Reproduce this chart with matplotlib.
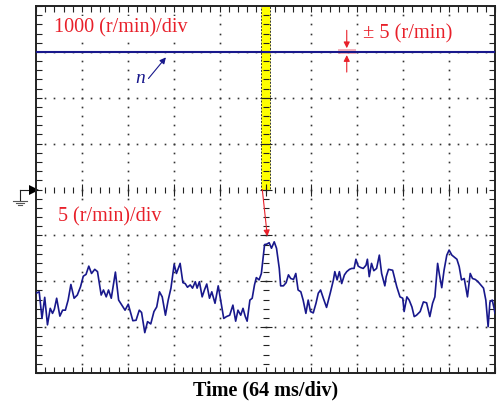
import numpy as np
import matplotlib
matplotlib.use('Agg')
from matplotlib import pyplot as plt
from matplotlib.patches import Rectangle

# screen units: divisions (10 x 8), time 64 ms/div
t_div = [0, 0.07, 0.13, 0.19, 0.25, 0.31, 0.36, 0.40, 0.45, 0.52,
         0.58, 0.64, 0.70, 0.76, 0.83, 0.90, 0.97, 1.03, 1.09, 1.15,
         1.21, 1.28, 1.34, 1.42, 1.47, 1.53, 1.58, 1.64, 1.73, 1.80,
         1.87, 1.94, 2.01, 2.11, 2.18, 2.25, 2.30, 2.37, 2.43, 2.50,
         2.57, 2.63, 2.69, 2.75, 2.82, 2.88, 2.94, 3.01, 3.06, 3.14,
         3.20, 3.25, 3.30, 3.36, 3.41, 3.47, 3.51, 3.56, 3.62, 3.67,
         3.72, 3.78, 3.83, 3.90,
         3.97, 4.04, 4.09, 4.15, 4.22, 4.29, 4.35, 4.40, 4.46, 4.51,
         4.56, 4.60, 4.66, 4.71, 4.76, 4.80, 4.86, 4.91, 4.95, 4.98,
         5.03,
         5.08, 5.13, 5.19, 5.24, 5.30, 5.33, 5.39, 5.45, 5.50, 5.55,
         5.61, 5.66, 5.71, 5.77, 5.82, 5.88, 5.93, 5.98, 6.04, 6.10,
         6.15, 6.20, 6.26, 6.33, 6.41, 6.48, 6.51, 6.56, 6.61, 6.66,
         6.72, 6.77, 6.83, 6.88, 6.93, 6.97, 7.02, 7.07, 7.13, 7.19,
         7.22, 7.26, 7.31, 7.36, 7.42, 7.48, 7.53, 7.60, 7.63, 7.68,
         7.77, 7.86, 7.93, 7.99, 8.02, 8.08, 8.13, 8.19, 8.24, 8.29,
         8.37, 8.44, 8.51, 8.58, 8.64, 8.69, 8.75, 8.79, 8.84, 8.89,
         8.95, 9.00, 9.06, 9.11, 9.17, 9.22, 9.27, 9.33, 9.40, 9.46,
         9.51, 9.57, 9.63, 9.69, 9.75, 9.80, 9.85, 9.89, 9.94, 9.98,
         10.0]

# speed ripple trace, 5 (r/min)/div
ripple_div = [1.74, 1.77, 1.19, 1.65, 1.05, 1.41, 1.30, 1.39, 1.63, 1.24,
              1.37, 1.37, 1.59, 1.93, 1.63, 1.70, 1.88, 2.11, 2.15, 2.33,
              2.17, 2.26, 2.21, 1.70, 1.81, 1.66, 1.81, 1.63, 2.20, 1.59,
              1.48, 1.37, 1.50, 1.14, 1.15, 1.37, 1.32, 0.88, 1.12, 1.07,
              1.34, 1.44, 1.77, 1.66, 1.26, 1.59, 1.85, 2.37, 2.17, 2.39,
              1.97, 1.95, 1.87, 1.92, 1.85, 1.99, 1.85, 1.99, 1.66, 1.81,
              1.94, 1.63, 1.77, 1.52,
              1.90, 1.48, 1.19, 1.23, 1.26, 1.48, 1.13, 1.37, 1.26, 1.41,
              1.23, 1.13, 1.59, 1.63, 1.92, 2.08, 2.03, 2.17, 2.53, 2.80,
              2.81,
              2.84, 2.72, 2.86, 2.72, 2.28, 1.90, 1.90, 1.97, 2.14, 2.06,
              2.04, 2.17, 1.81, 1.77, 1.59, 1.30, 1.59, 1.34, 1.31, 1.52,
              1.74, 1.81, 1.63, 1.43, 1.74, 2.03, 2.21, 2.03, 2.21, 1.95,
              2.14, 2.21, 2.26, 2.28, 2.28, 2.48, 2.33, 2.30, 2.28, 2.35,
              2.48, 2.10, 2.39, 2.23, 2.28, 2.57, 2.17, 1.90, 2.10, 2.26,
              2.24, 1.88, 1.66, 1.63, 1.34, 1.66, 1.59, 1.44, 1.23, 1.26,
              1.34, 1.55, 1.53, 1.23, 1.52, 1.66, 2.39, 2.14, 1.86, 2.24,
              2.57, 2.68, 2.57, 2.53, 2.48, 2.32, 2.03, 2.06, 1.66, 2.17,
              2.06, 2.04, 1.99, 1.92, 1.85, 1.59, 1.01, 1.55, 1.59, 1.41,
              1.30]

# speed trace, 1000 (r/min)/div
speed_t = [0, 10.0]
speed_div = [7.0, 7.0]

NAVY = '#18188c'
RED = '#e8202a'
SERIF = ['Liberation Serif', 'DejaVu Serif']
WHITE_BOX = dict(facecolor='white', edgecolor='none', pad=1.5)

fig = plt.figure(figsize=(5.0, 4.03), dpi=100)
ax = fig.add_axes([0.072, 0.0744, 0.918, 0.9107])
ax.set_xlim(0, 10)
ax.set_ylim(0, 8)

for s in ax.spines.values():
    s.set_linewidth(1.4)
    s.set_color('#222222')

ax.set_xticks(np.arange(0, 10.01, 1))
ax.set_yticks(np.arange(0, 8.01, 1))
ax.set_xticks(np.arange(0, 10.01, 0.2), minor=True)
ax.set_yticks(np.arange(0, 8.01, 0.2), minor=True)
ax.tick_params(which='both', direction='in', top=True, right=True,
               labelbottom=False, labelleft=False, color='#222222')
ax.tick_params(which='major', length=4, width=0.8)
ax.tick_params(which='minor', length=4, width=0.8)

# dotted graticule
dots_x = np.arange(0.2, 10, 0.2)
dots_y = np.arange(0.2, 8, 0.2)
for gx in [1, 2, 3, 4, 6, 7, 8, 9]:
    ax.plot(np.full_like(dots_y, gx), dots_y, ls='none', marker='s',
            ms=1.2, mew=0, color='#333333', zorder=1)
for gy in [1, 2, 3, 5, 6, 7]:
    ax.plot(dots_x, np.full_like(dots_x, gy), ls='none', marker='s',
            ms=1.2, mew=0, color='#333333', zorder=1)

# highlighted band on the centre axis
ax.add_patch(Rectangle((4.91, 4.0), 0.19, 4.0, facecolor='#ffff00',
                       edgecolor='#333333', lw=0.7, ls=(0, (2, 1.5)), zorder=2))

# centre axes made of ticks
minor_x = np.arange(0.2, 10, 0.2)
minor_y = np.arange(0.2, 8, 0.2)
ax.plot(minor_x, np.full_like(minor_x, 4), ls='none', marker='|', ms=5,
        mew=0.8, color='#222222', zorder=3)
ax.plot(np.arange(1, 10), np.full(9, 4), ls='none', marker='|', ms=9,
        mew=0.8, color='#222222', zorder=3)
ax.plot(np.full_like(minor_y, 5), minor_y, ls='none', marker='_', ms=5,
        mew=0.8, color='#222222', zorder=3)
ax.plot(np.full(7, 5), np.arange(1, 8), ls='none', marker='_', ms=9,
        mew=0.8, color='#222222', zorder=3)

# traces
ax.plot(speed_t, speed_div, color=NAVY, lw=1.5, zorder=4)
ax.plot(t_div, ripple_div, color=NAVY, lw=1.2, zorder=4)

# annotations
ax.text(0.39, 7.52, '1000 (r/min)/div', color=RED, fontsize=14.5,
        family=SERIF, va='center', ha='left', bbox=WHITE_BOX, zorder=1.5)
ax.text(0.48, 3.41, '5 (r/min)/div', color=RED, fontsize=14.5,
        family=SERIF, va='center', ha='left', bbox=WHITE_BOX, zorder=1.5)
ax.text(7.12, 7.39, '± 5 (r/min)', color=RED, fontsize=14.7,
        family=SERIF, va='center', ha='left', bbox=WHITE_BOX, zorder=1.5)
ax.text(2.27, 6.42, 'n', color=NAVY, fontsize=14, family=SERIF,
        style='italic', va='center', ha='center')
ax.annotate('', xy=(2.83, 6.88), xytext=(2.45, 6.42),
            arrowprops=dict(arrowstyle='-|>', color=NAVY, lw=0.8,
                            mutation_scale=9, shrinkA=0, shrinkB=0))

ax.add_patch(Rectangle((6.57, 6.96), 0.41, 0.1, facecolor='#f08090',
                       edgecolor='none', alpha=0.6, zorder=3))
ax.annotate('', xy=(6.77, 7.08), xytext=(6.77, 7.47),
            arrowprops=dict(arrowstyle='-|>', color=RED, lw=0.8,
                            mutation_scale=9, shrinkA=0, shrinkB=0), zorder=5)
ax.annotate('', xy=(6.77, 6.93), xytext=(6.77, 6.56),
            arrowprops=dict(arrowstyle='-|>', color=RED, lw=0.8,
                            mutation_scale=9, shrinkA=0, shrinkB=0), zorder=5)
ax.annotate('', xy=(5.04, 2.98), xytext=(4.93, 4.0),
            arrowprops=dict(arrowstyle='-|>', color=RED, lw=0.8,
                            mutation_scale=9, shrinkA=0, shrinkB=0), zorder=5)

# ground reference marker
ax.plot([-0.35, -0.05], [4, 4], color='#222222', lw=0.8, clip_on=False)
ax.plot([-0.35, -0.35], [4, 3.75], color='#222222', lw=0.8, clip_on=False)
ax.plot([-0.05], [4], marker='>', ms=7, mew=0, color='black', clip_on=False)
for half, gy in [(0.145, 3.75), (0.094, 3.71), (0.05, 3.67)]:
    ax.plot([-0.35 - half, -0.35 + half], [gy, gy], color='#555555', lw=0.8,
            clip_on=False)

fig.text(0.531, 0.032, 'Time (64 ms/div)', fontsize=14.5, fontweight='bold',
         family=SERIF, ha='center', va='center')

fig.savefig('out.png', dpi=100)
